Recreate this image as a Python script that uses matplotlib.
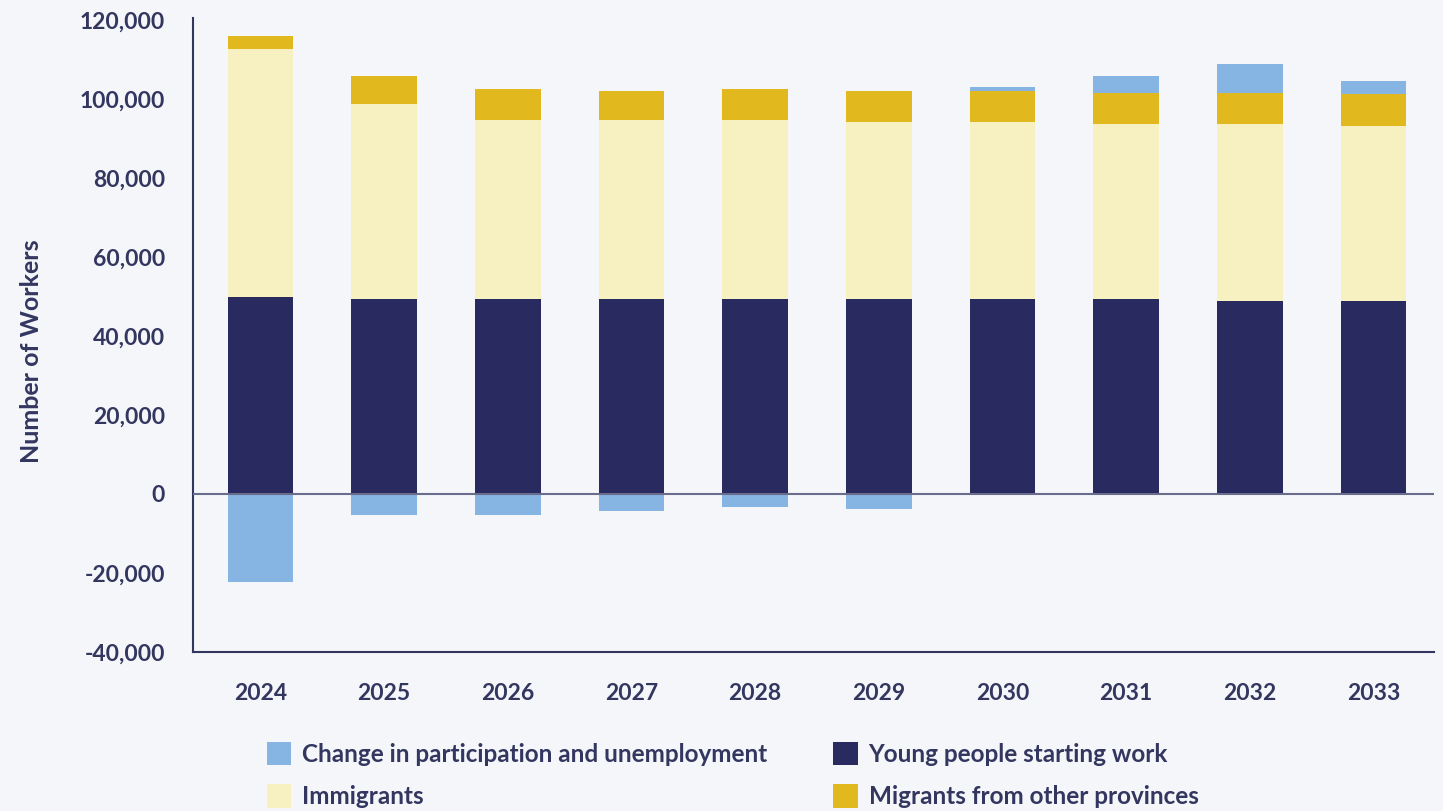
import numpy as np
import matplotlib.pyplot as plt

years = ["2024", "2025", "2026", "2027", "2028", "2029", "2030", "2031", "2032", "2033"]
young = [49800, 49300, 49300, 49300, 49300, 49300, 49300, 49300, 48800, 48800]
immigrants = [62800, 49500, 45400, 45400, 45400, 44900, 44900, 44400, 44900, 44400]
migrants = [3200, 6900, 7900, 7400, 7900, 7900, 7900, 7900, 7900, 7900]
participation = [-22400, -5300, -5300, -4300, -3300, -3800, 1000, 4100, 7100, 3500]

c_part = "#86b5e3"
c_young = "#282a60"
c_imm = "#f7f1c2"
c_mig = "#e2b81f"
txt = "#33365f"
bg = "#f4f6fa"

plt.rcParams["font.family"] = ["Lato", "DejaVu Sans"]

fig = plt.figure(figsize=(14.43, 8.11), dpi=100, facecolor=bg)
ax = fig.add_axes([0.1337, 0.196, 0.8601, 0.782])
ax.set_facecolor(bg)

x = np.arange(len(years))
w = 0.53
young = np.array(young)
immigrants = np.array(immigrants)
migrants = np.array(migrants)
participation = np.array(participation)

top = young + immigrants + migrants
# positive participation sits on top of the stack, negative hangs below zero
part_bottom = np.where(participation > 0, top, 0)

ax.bar(x, participation, w, bottom=part_bottom, color=c_part,
       label="Change in participation and unemployment", zorder=2)
ax.bar(x, young, w, color=c_young, label="Young people starting work", zorder=2)
ax.bar(x, immigrants, w, bottom=young, color=c_imm, label="Immigrants", zorder=2)
ax.bar(x, migrants, w, bottom=young + immigrants, color=c_mig,
       label="Migrants from other provinces", zorder=2)

ax.axhline(0, color="#6a6c8c", lw=1.5, zorder=3)

ax.set_xlim(-0.546, 9.49)
ax.set_ylim(-40000, 120500)
yt = np.arange(-40000, 120001, 20000)
ax.set_yticks(yt)
ax.set_yticklabels([f"{v:,}" for v in yt])
ax.set_xticks(x)
ax.set_xticklabels(years)

for s in ["top", "right"]:
    ax.spines[s].set_visible(False)
for s in ["left", "bottom"]:
    ax.spines[s].set_color(txt)
    ax.spines[s].set_linewidth(1.5)

ax.tick_params(axis="both", length=0, labelsize=16.5, labelcolor=txt)
ax.tick_params(axis="y", pad=20)
ax.tick_params(axis="x", pad=22)
for lab in ax.get_xticklabels() + ax.get_yticklabels():
    lab.set_fontweight("bold")

ax.set_ylabel("Number of Workers", fontsize=18, color=txt, fontweight="bold")
ax.yaxis.set_label_coords(-0.121, 0.475)

handles, labels = ax.get_legend_handles_labels()
order = [0, 2, 1, 3]
leg = fig.legend([handles[i] for i in order], [labels[i] for i in order],
                 loc="upper left", bbox_to_anchor=(0.170, 0.112), ncol=2,
                 frameon=False, fontsize=17.5, labelcolor=txt,
                 handlelength=1.0, handleheight=1.1, handletextpad=0.45,
                 columnspacing=2.7, labelspacing=0.75)
for t in leg.get_texts():
    t.set_fontweight("bold")

fig.savefig("out.png", dpi=100, facecolor=bg)
